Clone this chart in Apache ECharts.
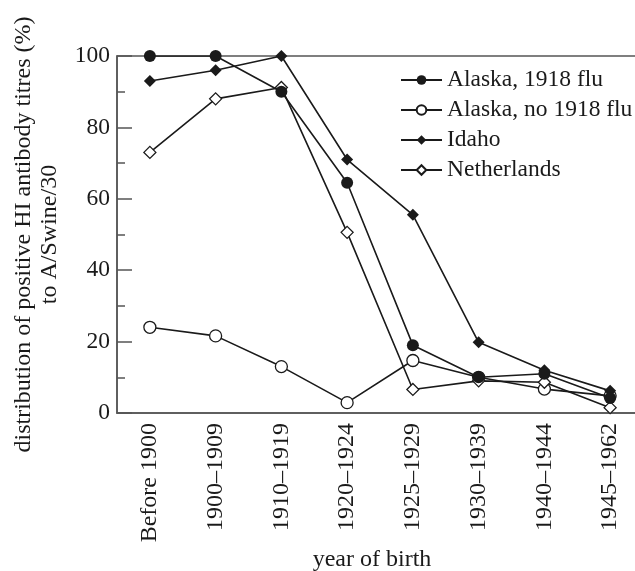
<!DOCTYPE html>
<html>
<head>
<meta charset="utf-8">
<script src="https://cdn.jsdelivr.net/npm/echarts@6/dist/echarts.min.js"></script>
<style>
  html, body { margin: 0; padding: 0; background: #fff; }
  #chart { width: 635px; height: 571px; }
</style>
</head>
<body>
<div id="chart"></div>
<script>
var categories = ['Before 1900', '1900\u20131909', '1910\u20131919', '1920\u20131924',
                  '1925\u20131929', '1930\u20131939', '1940\u20131944', '1945\u20131962'];
var alaska1918 = [100, 100, 90, 64.5, 19, 10, 11, 4.2];
var alaskaNo1918 = [24, 21.6, 13, 2.9, 14.7, 10, 6.7, 4.8];
var idaho = [93, 96, 100, 71, 55.5, 19.8, 12, 6.2];
var netherlands = [73, 88, 91.2, 50.6, 6.6, 9, 8.6, 1.5];
var yTicks = [0, 20, 40, 60, 80, 100];

var chart = echarts.init(document.getElementById('chart'));
var font = "'Liberation Serif', 'DejaVu Serif', serif";
var ink = '#1a1a1a';
var axisGrey = '#555';

function makeSeries(name, data, symbol, filled, size) {
    return {
        name: name,
        type: 'line',
        data: data,
        symbol: symbol,
        symbolSize: size,
        showAllSymbol: true,
        lineStyle: { color: ink, width: 1.6 },
        itemStyle: {
            color: filled ? ink : '#fff',
            borderColor: ink,
            borderWidth: filled ? 0 : 1.3
        },
        emphasis: { disabled: true },
        z: filled ? 3 : 2
    };
}

option = {
    animation: false,
    backgroundColor: '#fff',
    textStyle: { fontFamily: font },
    grid: {
        left: 117,
        top: 56,
        width: 526,
        height: 357,
        outerBoundsMode: 'none',
        containLabel: false,
        show: true,
        borderColor: axisGrey,
        borderWidth: 1.5
    },
    legend: {
        orient: 'vertical',
        left: 395,
        top: 63,
        itemWidth: 41,
        itemHeight: 12,
        itemGap: 6,
        textStyle: { fontFamily: font, fontSize: 23.5, color: ink, lineHeight: 24 },
        data: ['Alaska, 1918 flu', 'Alaska, no 1918 flu', 'Idaho', 'Netherlands']
    },
    xAxis: {
        type: 'category',
        data: categories,
        boundaryGap: true,
        name: 'year of birth',
        nameLocation: 'middle',
        nameGap: 135,
        nameMoveOverlap: false,
        nameTextStyle: { fontFamily: font, fontSize: 24, color: ink, padding: [0, 16, 0, 0] },
        axisLine: { lineStyle: { color: axisGrey, width: 1.5 } },
        axisTick: { alignWithLabel: true, inside: true, length: 15, lineStyle: { color: axisGrey, width: 1.5 } },
        axisLabel: { rotate: 90, margin: 10, fontFamily: font, fontSize: 24, color: ink },
        splitLine: { show: false }
    },
    yAxis: {
        type: 'value',
        min: yTicks[0],
        max: yTicks[yTicks.length - 1],
        interval: 20,
        name: 'distribution of positive HI antibody titres (%)\nto A/Swine/30',
        nameLocation: 'middle',
        nameGap: 54,
        nameMoveOverlap: false,
        nameTextStyle: { fontFamily: font, fontSize: 24, color: ink, lineHeight: 26 },
        axisLine: { show: true, lineStyle: { color: axisGrey, width: 1.5 } },
        axisTick: { show: true, inside: true, length: 15, lineStyle: { color: axisGrey, width: 1.5 } },
        minorTick: { show: true, splitNumber: 2, length: 8, lineStyle: { color: axisGrey, width: 1.5 } },
        axisLabel: { margin: 7, fontFamily: font, fontSize: 23.5, color: ink },
        splitLine: { show: false }
    },
    series: [
        makeSeries('Alaska, no 1918 flu', alaskaNo1918, 'circle', false, 12),
        makeSeries('Netherlands', netherlands, 'diamond', false, 12),
        makeSeries('Idaho', idaho, 'diamond', true, 12),
        makeSeries('Alaska, 1918 flu', alaska1918, 'circle', true, 12)
    ]
};

chart.setOption(option);
</script>
</body>
</html>
